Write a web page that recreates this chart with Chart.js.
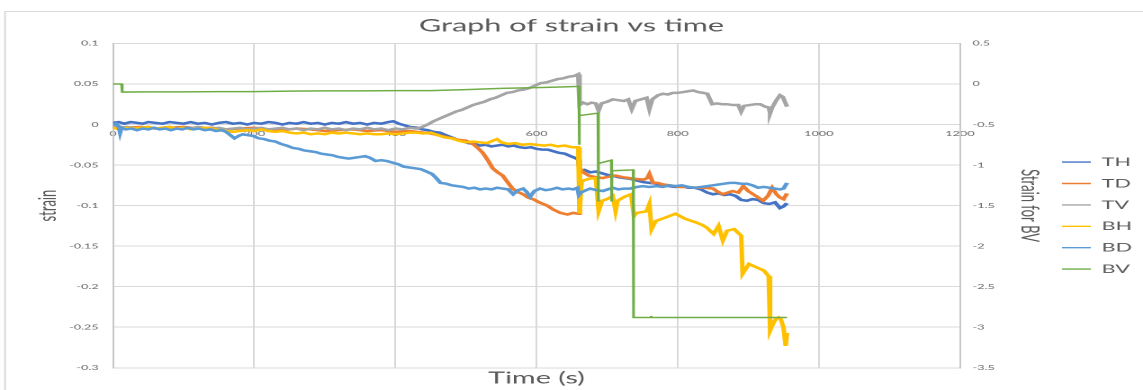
<!DOCTYPE html>
<html>
<head>
<meta charset="utf-8">
<script src="https://cdn.jsdelivr.net/npm/chart.js@4"></script>
<style>
  html, body { margin: 0; padding: 0; background: #fff; }
  #strain-chart { display: block; }
</style>
</head>
<body>
<canvas id="strain-chart" width="635" height="390" style="width:1143px;height:390px"></canvas>
<script>
// ─── Data: [time (s), strain] ───────────────────────────────────────
const seriesNames = ['TH', 'TD', 'TV', 'BH', 'BD', 'BV'];

const thData = [
  [0, 0.002], [8, 0.003], [16, 0.001], [25, 0.003], [34, 0.002], [42, 0.001], [50, 0.003], [60, 0.002], [70, 0.001], [80, 0.003],
  [90, 0.002], [100, 0.001], [110, 0.003], [120, 0.001], [130, 0.002], [140, 0.000], [150, 0.002], [160, 0.003], [170, 0.001], [180, 0.002],
  [190, 0.000], [200, 0.002], [210, 0.001], [220, 0.003], [230, 0.002], [240, 0.000], [250, 0.002], [260, 0.001], [270, 0.003], [280, 0.001],
  [290, 0.002], [300, 0.000], [310, 0.002], [320, 0.001], [330, 0.003], [340, 0.001], [350, 0.002], [360, 0.000], [370, 0.002], [380, 0.001],
  [390, 0.003], [397, 0.004], [405, 0.001], [413, -0.001], [421, -0.003], [430, -0.004], [438, -0.006], [446, -0.007], [454, -0.009], [463, -0.010],
  [471, -0.013], [480, -0.016], [488, -0.019], [496, -0.021], [504, -0.023], [512, -0.024], [520, -0.026], [528, -0.025], [536, -0.027], [544, -0.026],
  [552, -0.025], [560, -0.027], [568, -0.026], [576, -0.028], [584, -0.029], [592, -0.028], [600, -0.030], [608, -0.031], [616, -0.031], [624, -0.033],
  [632, -0.035], [640, -0.036], [648, -0.039], [654, -0.041], [659, -0.043], [661, -0.057], [668, -0.056], [676, -0.059], [684, -0.058], [692, -0.060],
  [700, -0.062], [708, -0.063], [716, -0.065], [724, -0.066], [733, -0.067], [742, -0.069], [751, -0.071], [760, -0.072], [770, -0.073], [779, -0.075],
  [788, -0.076], [797, -0.077], [806, -0.076], [815, -0.078], [824, -0.078], [833, -0.080], [842, -0.084], [850, -0.086], [858, -0.085], [866, -0.087],
  [874, -0.086], [882, -0.088], [890, -0.093], [898, -0.094], [906, -0.092], [914, -0.093], [922, -0.097], [930, -0.098], [938, -0.096], [945, -0.103],
  [950, -0.101], [955, -0.097],
];

const tdData = [
  [0, -0.002], [20, -0.004], [40, -0.003], [60, -0.005], [80, -0.004], [100, -0.003], [120, -0.005], [140, -0.004], [160, -0.006], [180, -0.005],
  [200, -0.004], [220, -0.006], [240, -0.007], [260, -0.005], [280, -0.006], [300, -0.008], [320, -0.007], [340, -0.006], [360, -0.008], [380, -0.007],
  [400, -0.009], [420, -0.008], [440, -0.010], [450, -0.011], [460, -0.013], [470, -0.015], [480, -0.017], [490, -0.019], [500, -0.020], [510, -0.024],
  [517, -0.029], [524, -0.035], [531, -0.044], [538, -0.054], [545, -0.059], [552, -0.063], [559, -0.071], [566, -0.079], [573, -0.083], [581, -0.086],
  [588, -0.090], [595, -0.092], [604, -0.096], [615, -0.100], [624, -0.105], [634, -0.109], [644, -0.111], [652, -0.109], [659, -0.110], [661, -0.054],
  [668, -0.060], [674, -0.063], [684, -0.065], [694, -0.066], [704, -0.064], [712, -0.063], [722, -0.065], [731, -0.066], [740, -0.067], [752, -0.068],
  [757, -0.066], [760, -0.061], [765, -0.072], [771, -0.072], [780, -0.074], [789, -0.075], [803, -0.077], [815, -0.077], [827, -0.078], [838, -0.078],
  [850, -0.079], [857, -0.083], [864, -0.086], [871, -0.084], [878, -0.082], [886, -0.084], [893, -0.076], [900, -0.082], [907, -0.086], [914, -0.090],
  [921, -0.094], [928, -0.088], [934, -0.078], [940, -0.086], [945, -0.090], [950, -0.092], [955, -0.085],
];

const tvData = [
  [0, -0.002], [10, -0.004], [20, -0.003], [30, -0.005], [40, -0.004], [50, -0.003], [60, -0.005], [70, -0.004], [80, -0.003], [90, -0.005],
  [100, -0.004], [110, -0.005], [120, -0.003], [130, -0.004], [140, -0.005], [150, -0.004], [160, -0.006], [170, -0.005], [180, -0.004], [190, -0.006],
  [200, -0.005], [210, -0.004], [220, -0.006], [230, -0.005], [240, -0.004], [250, -0.006], [260, -0.005], [270, -0.007], [280, -0.005], [290, -0.006],
  [300, -0.004], [310, -0.006], [320, -0.005], [330, -0.007], [340, -0.005], [350, -0.006], [360, -0.004], [370, -0.006], [380, -0.005], [390, -0.007],
  [400, -0.005], [410, -0.006], [420, -0.004], [430, -0.005], [438, -0.003], [446, 0.000], [454, 0.004], [462, 0.007], [470, 0.010], [478, 0.013],
  [486, 0.016], [494, 0.018], [502, 0.021], [510, 0.024], [518, 0.026], [526, 0.028], [534, 0.031], [542, 0.033], [550, 0.036], [558, 0.039],
  [566, 0.040], [574, 0.042], [582, 0.043], [590, 0.045], [598, 0.048], [606, 0.051], [614, 0.052], [622, 0.054], [630, 0.056], [638, 0.057],
  [646, 0.059], [654, 0.060], [659, 0.062], [661, 0.024], [666, 0.027], [672, 0.025], [678, 0.027], [684, 0.026], [688, 0.017], [692, 0.026],
  [700, 0.028], [708, 0.031], [716, 0.030], [724, 0.029], [730, 0.031], [735, 0.019], [740, 0.029], [748, 0.031], [756, 0.033], [760, 0.019],
  [764, 0.031], [772, 0.036], [779, 0.038], [786, 0.037], [793, 0.039], [800, 0.039], [808, 0.040], [815, 0.041], [822, 0.042], [829, 0.040],
  [836, 0.039], [842, 0.038], [849, 0.025], [856, 0.026], [863, 0.025], [870, 0.025], [878, 0.024], [886, 0.024], [890, 0.016], [894, 0.023],
  [902, 0.024], [910, 0.025], [917, 0.025], [924, 0.022], [929, 0.021], [931, 0.014], [934, 0.021], [940, 0.030], [945, 0.036], [949, 0.034],
  [952, 0.028], [955, 0.022],
];

const bhData = [
  [0, -0.004], [10, -0.006], [20, -0.004], [30, -0.005], [40, -0.004], [50, -0.003], [60, -0.005], [70, -0.004], [80, -0.003], [90, -0.005],
  [100, -0.004], [110, -0.006], [120, -0.005], [130, -0.004], [140, -0.005], [150, -0.007], [160, -0.008], [170, -0.009], [180, -0.008], [190, -0.007],
  [200, -0.008], [210, -0.006], [220, -0.008], [230, -0.009], [240, -0.008], [250, -0.010], [260, -0.011], [270, -0.010], [280, -0.012], [290, -0.011],
  [300, -0.012], [310, -0.010], [320, -0.011], [330, -0.010], [340, -0.011], [350, -0.012], [360, -0.011], [370, -0.012], [380, -0.012], [390, -0.011],
  [400, -0.012], [410, -0.011], [420, -0.010], [430, -0.010], [440, -0.011], [450, -0.010], [460, -0.013], [470, -0.016], [480, -0.017], [490, -0.020],
  [500, -0.022], [510, -0.021], [520, -0.022], [530, -0.023], [538, -0.020], [544, -0.018], [550, -0.022], [560, -0.024], [570, -0.023], [580, -0.025],
  [590, -0.024], [600, -0.025], [610, -0.026], [620, -0.025], [630, -0.027], [640, -0.026], [650, -0.028], [659, -0.028], [661, -0.110], [664, -0.070],
  [674, -0.067], [684, -0.066], [688, -0.107], [693, -0.094], [700, -0.092], [708, -0.088], [712, -0.107], [715, -0.094], [725, -0.089], [734, -0.086],
  [738, -0.113], [742, -0.109], [750, -0.108], [756, -0.107], [760, -0.098], [763, -0.129], [769, -0.119], [782, -0.115], [797, -0.110], [810, -0.116],
  [820, -0.119], [827, -0.121], [835, -0.124], [841, -0.127], [851, -0.135], [858, -0.125], [864, -0.143], [870, -0.131], [880, -0.129], [890, -0.137],
  [892, -0.184], [901, -0.172], [914, -0.177], [922, -0.180], [929, -0.187], [931, -0.254], [935, -0.246], [939, -0.240], [943, -0.238], [946, -0.240],
  [950, -0.250], [953, -0.273], [955, -0.257],
];

const bdData = [
  [0, -0.001], [4, 0.001], [8, -0.002], [10, -0.010], [12, -0.004], [18, -0.006], [26, -0.005], [34, -0.007], [42, -0.005], [50, -0.006],
  [58, -0.004], [66, -0.006], [74, -0.005], [82, -0.007], [90, -0.005], [98, -0.006], [106, -0.004], [114, -0.006], [122, -0.005], [130, -0.007],
  [138, -0.006], [146, -0.008], [154, -0.007], [160, -0.009], [166, -0.013], [172, -0.017], [178, -0.014], [184, -0.012], [190, -0.013], [198, -0.014],
  [206, -0.017], [214, -0.018], [222, -0.020], [230, -0.021], [238, -0.024], [246, -0.026], [255, -0.029], [263, -0.030], [271, -0.032], [279, -0.033],
  [287, -0.034], [295, -0.036], [303, -0.037], [311, -0.038], [319, -0.040], [326, -0.041], [334, -0.042], [342, -0.041], [350, -0.040], [357, -0.039],
  [364, -0.041], [372, -0.045], [380, -0.044], [388, -0.045], [396, -0.047], [404, -0.049], [412, -0.052], [420, -0.053], [428, -0.054], [436, -0.055],
  [444, -0.058], [452, -0.061], [458, -0.066], [464, -0.072], [472, -0.073], [480, -0.075], [488, -0.076], [496, -0.077], [504, -0.079], [512, -0.078],
  [520, -0.080], [528, -0.079], [536, -0.080], [544, -0.078], [552, -0.079], [560, -0.080], [567, -0.086], [574, -0.081], [581, -0.079], [586, -0.083],
  [591, -0.089], [597, -0.082], [605, -0.079], [613, -0.081], [621, -0.080], [629, -0.078], [637, -0.080], [645, -0.079], [652, -0.080], [658, -0.078],
  [660, -0.087], [663, -0.084], [670, -0.081], [676, -0.079], [685, -0.081], [694, -0.082], [701, -0.080], [708, -0.078], [716, -0.080], [724, -0.079],
  [733, -0.079], [742, -0.077], [751, -0.076], [760, -0.077], [770, -0.076], [779, -0.077], [788, -0.075], [797, -0.076], [806, -0.075], [815, -0.077],
  [824, -0.078], [833, -0.077], [842, -0.076], [850, -0.075], [858, -0.074], [866, -0.073], [874, -0.072], [882, -0.072], [890, -0.073], [898, -0.073],
  [906, -0.075], [914, -0.078], [922, -0.077], [930, -0.078], [938, -0.079], [945, -0.080], [950, -0.079], [955, -0.072],
];

// BV is read against the right-hand axis
const bvData = [
  [0, 0.000], [12, 0.000], [13, -0.100], [50, -0.098], [100, -0.097], [150, -0.095], [200, -0.094], [250, -0.088], [300, -0.086], [350, -0.085],
  [400, -0.083], [450, -0.082], [500, -0.070], [550, -0.055], [600, -0.045], [640, -0.036], [660, -0.030], [660.5, -0.75], [661, -0.39], [687, -0.36],
  [687.5, -1.45], [688, -0.98], [706, -0.94], [706.5, -1.45], [707, -1.07], [737, -1.06], [737.5, -2.88], [761, -2.88], [762, -2.86], [763, -2.88],
  [955, -2.88],
];

const xTicks = { min: 0, max: 1200, step: 200 };
const yTicks = { min: -0.3, max: 0.1, step: 0.05 };
const y1Ticks = { min: -3.5, max: 0.5, step: 0.5 };

// ─── Chart ─────────────────────────────────────────────────────────
Chart.defaults.font.family = 'Lato, "Liberation Sans", sans-serif';
Chart.defaults.color = '#595959';

const toPoints = (rows) => rows.map(([t, v]) => ({ x: t, y: v }));
const fmt = (v) => String(+Number(v).toFixed(2));

// light grey frame around the chart (Excel chart border)
const chartFrame = {
  id: 'chartFrame',
  beforeDraw(chart) {
    const ctx = chart.ctx;
    ctx.save();
    ctx.strokeStyle = '#d9d9d9';
    ctx.lineWidth = 1;
    ctx.strokeRect(2.8, 11.5, 800, 500);
    ctx.restore();
  },
};

function lineSet(label, rows, color, order, axis, width) {
  return {
    label,
    data: toPoints(rows),
    borderColor: color,
    backgroundColor: color,
    borderWidth: width,
    pointRadius: 0,
    pointHoverRadius: 0,
    tension: 0,
    fill: false,
    order,
    xAxisID: 'x',
    yAxisID: axis,
  };
}

const tickFont = { size: 7 };

new Chart(document.getElementById('strain-chart'), {
  type: 'line',
  data: {
    datasets: [
      lineSet(seriesNames[0], thData, '#4472C4', 6, 'y', 2.5),
      lineSet(seriesNames[1], tdData, '#ED7D31', 5, 'y', 2.5),
      lineSet(seriesNames[2], tvData, '#A5A5A5', 4, 'y', 2.5),
      lineSet(seriesNames[3], bhData, '#FFC000', 3, 'y', 2.5),
      lineSet(seriesNames[4], bdData, '#5B9BD5', 2, 'y', 2.5),
      lineSet(seriesNames[5], bvData, '#70AD47', 1, 'y1', 1.5),
    ],
  },
  options: {
    responsive: false,
    devicePixelRatio: 2,
    animation: false,
    events: [],
    plugins: {
      title: {
        display: true,
        text: 'Graph of strain vs time',
        color: '#595959',
        font: { size: 17, weight: 'normal' },
        padding: { top: 16, bottom: 7 },
      },
      legend: {
        position: 'right',
        fullSize: false,
        maxWidth: 54.4,
        title: { display: true, text: '', font: { size: 10 }, padding: 4 },
        labels: {
          usePointStyle: true,
          pointStyle: 'line',
          pointStyleWidth: 16,
          padding: 9.4,
          color: '#595959',
          font: { size: 12 },
          generateLabels: (chart) => Chart.defaults.plugins.legend.labels.generateLabels(chart)
            .map((item) => ({ ...item, lineWidth: 1.4 })),
          sort: (a, b) => a.datasetIndex - b.datasetIndex,
        },
      },
      tooltip: { enabled: false },
    },
    scales: {
      x: {
        type: 'linear',
        position: { y: 0 },
        min: xTicks.min,
        max: xTicks.max,
        ticks: { stepSize: xTicks.step, padding: 5, maxRotation: 0, color: '#666666', font: tickFont, callback: (v) => String(v) },
        grid: { color: '#d9d9d9', drawTicks: false },
        border: { color: '#d9d9d9' },
      },
      x2: {
        type: 'linear',
        position: 'bottom',
        ticks: { display: false },
        grid: { display: false, drawTicks: false },
        border: { display: false },
        title: { display: true, text: 'Time (s)', color: '#595959', font: { size: 16 }, padding: { top: 1, bottom: 2 } },
      },
      y: {
        position: 'left',
        min: yTicks.min,
        max: yTicks.max,
        ticks: { stepSize: yTicks.step, padding: 8, color: '#666666', font: tickFont, callback: fmt },
        grid: { color: '#d9d9d9', drawTicks: false },
        border: { color: '#c8c8c8' },
        title: { display: true, text: 'strain', color: '#595959', font: { size: 13 }, padding: { top: 19, bottom: 0 } },
        afterFit: (s) => { s.width = 62.8; },
      },
      y1: {
        position: 'right',
        min: y1Ticks.min,
        max: y1Ticks.max,
        ticks: { stepSize: y1Ticks.step, padding: 7, color: '#666666', font: tickFont, callback: fmt },
        grid: { drawOnChartArea: false, drawTicks: false },
        border: { color: '#c8c8c8' },
        title: { display: true, text: 'Strain for BV', color: '#595959', font: { size: 13 }, padding: { top: 1, bottom: 0 } },
        afterFit: (s) => { s.width = 47.3; },
      },
    },
  },
  plugins: [chartFrame],
});
</script>
</body>
</html>
